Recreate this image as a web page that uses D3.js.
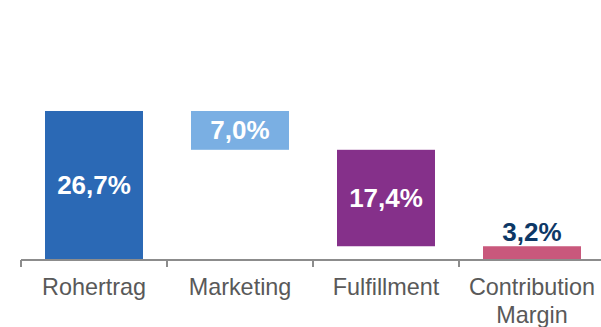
<!DOCTYPE html>
<html>
<head>
<meta charset="utf-8">
<script src="https://cdn.jsdelivr.net/npm/d3@7.9.0/dist/d3.min.js"></script>
<style>
  html, body { margin: 0; padding: 0; background: #fff; }
  svg { display: block; font-family: "Liberation Sans", Arial, sans-serif; }
</style>
</head>
<body>
<svg id="chart" width="601" height="327"></svg>
<script>
// waterfall steps (percent of revenue)
const categories = ['Rohertrag', 'Marketing', 'Fulfillment', 'Contribution Margin'];
const barStart  = [0, 26.7, 19.7, 0];
const barEnd    = [26.7, 19.7, 2.3, 2.3];
const labelVals = [26.7, 7.0, 17.4, 3.2];
const colors    = ['#2b69b5', '#7aafe3', '#85308a', '#c9587c'];

const fmt = v => v.toFixed(1).replace('.', ',') + '%';

const rows = categories.map((c, i) => ({
  cat: c, start: barStart[i], end: barEnd[i], label: fmt(labelVals[i]), color: colors[i],
  inside: i < 3
}));

const svg = d3.select('#chart');

const x = d3.scaleBand()
  .domain(categories)
  .range([21, 605])
  .paddingInner(0.3288)
  .paddingOuter(0.1644);

const y = d3.scaleLinear()
  .domain([0, 30])
  .range([259, 92.7]);

const edge = (x.step() - x.bandwidth()) / 2;

// bars
svg.selectAll('rect.bar')
  .data(rows)
  .join('rect')
  .attr('class', 'bar')
  .attr('x', d => x(d.cat))
  .attr('width', x.bandwidth())
  .attr('y', d => y(Math.max(d.start, d.end)))
  .attr('height', d => Math.abs(y(d.start) - y(d.end)))
  .attr('fill', d => d.color);

// axis line + ticks at band boundaries
const axisY = 260;
svg.append('line')
  .attr('x1', x.range()[0]).attr('x2', x.range()[1])
  .attr('y1', axisY).attr('y2', axisY)
  .attr('stroke', '#8c8c8c').attr('stroke-width', 2);

svg.selectAll('line.tick')
  .data(categories)
  .join('line')
  .attr('class', 'tick')
  .attr('x1', d => x(d) - edge).attr('x2', d => x(d) - edge)
  .attr('y1', axisY).attr('y2', axisY + 7)
  .attr('stroke', '#8c8c8c').attr('stroke-width', 2);

// category labels (wrap on space for long names)
const catText = svg.selectAll('text.cat')
  .data(categories)
  .join('text')
  .attr('class', 'cat')
  .attr('text-anchor', 'middle')
  .attr('fill', '#595959')
  .style('font-size', '23.4px')
  .attr('x', d => x(d) + x.bandwidth() / 2)
  .attr('y', 294.5);

catText.each(function(d) {
  const words = d.length > 12 ? d.split(' ') : [d];
  const t = d3.select(this);
  words.forEach((w, i) => {
    t.append('tspan')
      .attr('x', x(d) + x.bandwidth() / 2)
      .attr('dy', i === 0 ? 0 : 28.7)
      .text(w);
  });
});

// value labels
svg.selectAll('text.val')
  .data(rows)
  .join('text')
  .attr('class', 'val')
  .attr('text-anchor', 'middle')
  .style('font-size', '26px')
  .style('font-weight', 'bold')
  .attr('fill', d => d.inside ? '#ffffff' : '#0d3866')
  .attr('x', d => x(d.cat) + x.bandwidth() / 2)
  .attr('y', d => d.inside
    ? (y(d.start) + y(d.end)) / 2
    : y(Math.max(d.start, d.end)) - 5)
  .attr('dy', d => d.inside ? '0.35em' : 0)
  .text(d => d.label);
</script>
</body>
</html>
